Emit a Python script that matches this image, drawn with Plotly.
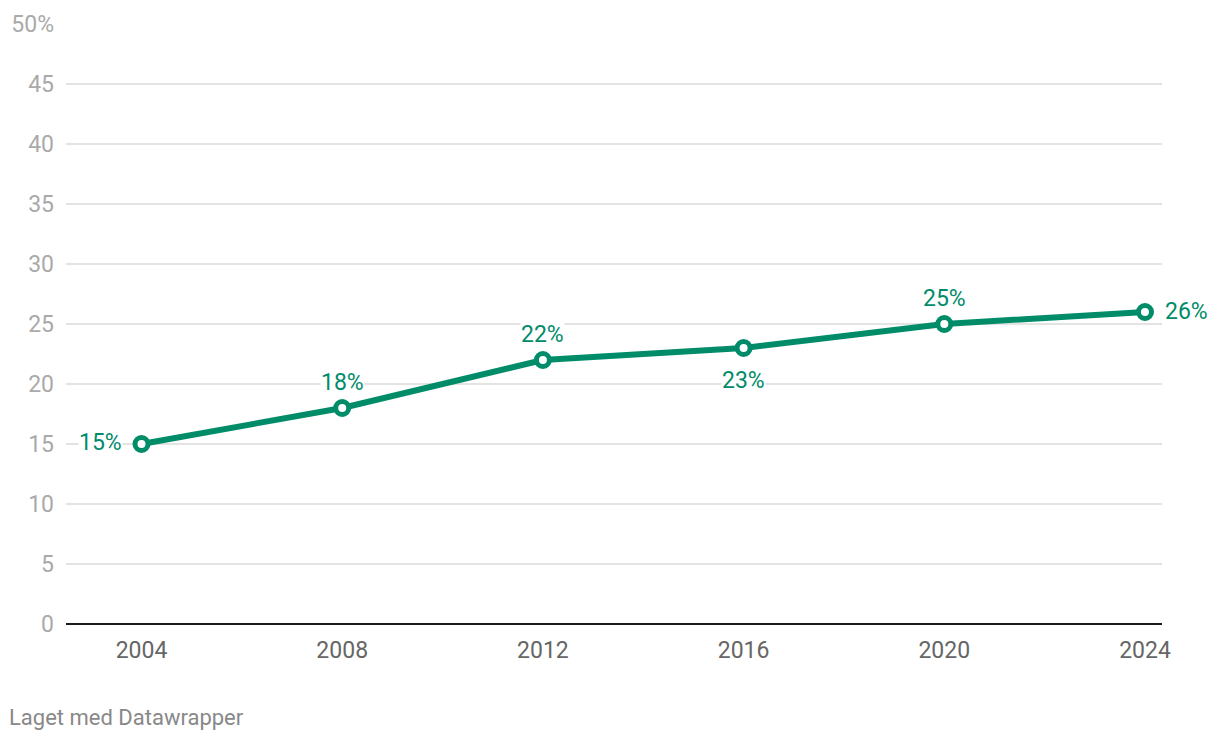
import plotly.graph_objects as go

years = [2004, 2008, 2012, 2016, 2020, 2024]
values = [15, 18, 22, 23, 25, 26]
labels = ["15%", "18%", "22%", "23%", "25%", "26%"]
label_pos = ["left", "top", "top", "bottom", "top", "right"]
y_ticks = [0, 5, 10, 15, 20, 25, 30, 35, 40, 45, 50]
y_ticktext = ["0", "5", "10", "15", "20", "25", "30", "35", "40", "45", "50%"]

GREEN = "#008c69"

fig = go.Figure()
fig.add_trace(go.Scatter(
    x=years, y=values, mode="lines+markers",
    line=dict(color=GREEN, width=6),
    marker=dict(size=13, color="white", line=dict(color=GREEN, width=5)),
    hoverinfo="skip", showlegend=False,
))

annotations = []
for x, y, t, p in zip(years, values, labels, label_pos):
    a = dict(x=x, y=y, text=t, showarrow=False, bgcolor="white", borderpad=0,
             font=dict(family="Roboto", size=23, color=GREEN))
    if p == "left":
        a.update(xanchor="right", yanchor="middle", xshift=-19, yshift=2)
    elif p == "right":
        a.update(xanchor="left", yanchor="middle", xshift=19, yshift=1)
    elif p == "top":
        a.update(xanchor="center", yanchor="middle", yshift=26)
    else:
        a.update(xanchor="center", yanchor="middle", yshift=-32)
    annotations.append(a)

annotations.append(dict(
    xref="paper", yref="paper", x=-56/1096, y=-93/600, xanchor="left", yanchor="middle",
    xshift=-3, text="Laget med Datawrapper", showarrow=False,
    font=dict(family="Roboto", size=22, color="#888888"),
))

fig.update_layout(
    width=1220, height=740,
    margin=dict(l=66, r=58, t=24, b=116),
    paper_bgcolor="white", plot_bgcolor="white",
    font=dict(family="Roboto"),
    annotations=annotations,
    xaxis=dict(
        range=[2002.495, 2024.339], tickvals=years, ticktext=[str(y) for y in years],
        showgrid=False, zeroline=False, showline=False, ticks="",
        tickfont=dict(family="Roboto", size=23, color="#666666"),
        ticklabelstandoff=10,
    ),
    yaxis=dict(
        range=[0, 50], tickvals=y_ticks, ticktext=y_ticktext,
        showgrid=True, gridcolor="#e3e3e3", gridwidth=1.5,
        zeroline=True, zerolinecolor="#1a1a1a", zerolinewidth=2,
        showline=False, ticks="",
        tickfont=dict(family="Roboto", size=23, color="#aaaaaa"),
        ticklabelstandoff=11,
    ),
)

fig.write_html("out.html", config={"displayModeBar": False},
               post_script="document.body.style.margin='0';document.body.style.overflow='hidden';")
